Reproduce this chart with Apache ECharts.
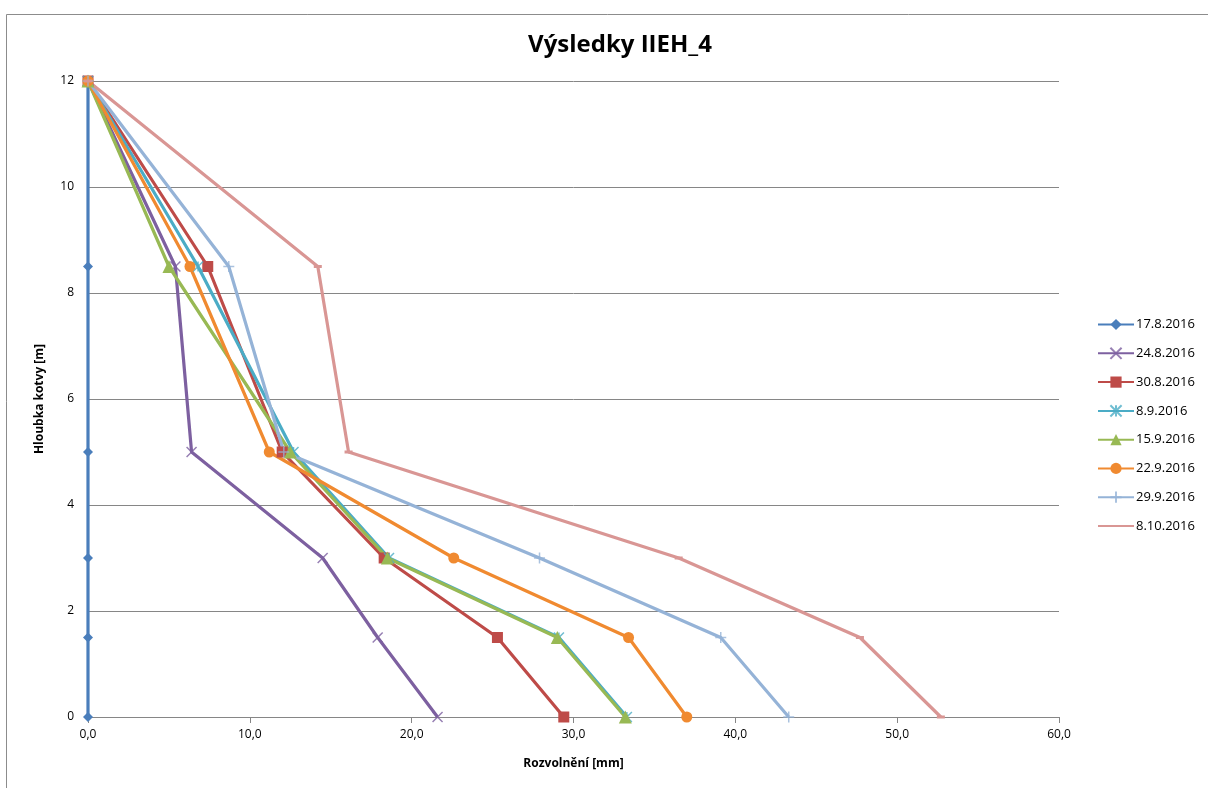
<!DOCTYPE html>
<html><head><meta charset="utf-8">
<script src="https://cdn.jsdelivr.net/npm/echarts@6/dist/echarts.min.js"></script>
<style>html,body{margin:0;padding:0;background:#fff}#c{width:1208px;height:788px}</style>
</head><body><div id="c"></div>
<script>
const depths = [12, 8.5, 5, 3, 1.5, 0];
const seriesNames = ['17.8.2016','24.8.2016','30.8.2016','8.9.2016','15.9.2016','22.9.2016','29.9.2016','8.10.2016'];
const s_17_8 = [0, 0, 0, 0, 0, 0];
const s_24_8 = [0, 5.4, 6.4, 14.5, 17.9, 21.6];
const s_30_8 = [0, 7.4, 12.0, 18.3, 25.3, 29.4];
const s_8_9  = [0, 6.8, 12.7, 18.6, 29.1, 33.3];
const s_15_9 = [0, 5.0, 12.5, 18.5, 29.0, 33.2];
const s_22_9 = [0, 6.3, 11.2, 22.6, 33.4, 37.0];
const s_29_9 = [0, 8.7, 12.1, 27.9, 39.1, 43.3];
const s_8_10 = [0, 14.2, 16.1, 36.5, 47.7, 52.7];
const xTicks = [0, 10, 20, 30, 40, 50, 60];
const yTicks = [0, 2, 4, 6, 8, 10, 12];

const allValues = [s_17_8, s_24_8, s_30_8, s_8_9, s_15_9, s_22_9, s_29_9, s_8_10];
const colors = ['#4A7EBB','#7D60A0','#BE4B48','#4BACC6','#98B954','#F08A30','#95B3D7','#D99694'];
const symbols = [
  {symbol:'diamond', size:10, stroke:false},
  {symbol:'path://M0,0L10,10M10,0L0,10', size:10, stroke:true},
  {symbol:'rect', size:11, stroke:false},
  {symbol:'path://M0,0L10,10M10,0L0,10M5,0L5,10', size:10, stroke:true},
  {symbol:'triangle', size:13, stroke:false},
  {symbol:'circle', size:11, stroke:false},
  {symbol:'path://M5,0L5,10M0,5L10,5', size:11, stroke:true},
  {symbol:'rect', size:[8,3], stroke:false}
];

const series = seriesNames.map((name, i) => ({
  name: name,
  type: 'line',
  data: allValues[i].map((v, k) => [v, depths[k]]),
  symbol: symbols[i].symbol,
  symbolSize: symbols[i].size,
  showAllSymbol: true,
  lineStyle: {color: colors[i], width: 3.2},
  itemStyle: symbols[i].stroke
    ? {color: 'rgba(0,0,0,0)', borderColor: colors[i], borderWidth: 1.5, opacity: 0.8}
    : {color: colors[i], borderWidth: 0},
  emphasis: {disabled: true},
  animation: false
}));

const legendData = seriesNames.map((n, i) => i === 7 ? {name: n, itemStyle: {opacity: 0}} : {name: n});

const chart = echarts.init(document.getElementById('c'), null, {renderer: 'canvas'});
chart.setOption({
  backgroundColor: '#fff',
  animation: false,
  color: colors,
  graphic: [{
    type: 'rect', left: 4, top: 12, silent: true,
    shape: {width: 1220, height: 800},
    style: {fill: 'none', stroke: '#8c8c8c', lineWidth: 1}
  }],
  title: {
    text: 'Výsledky IIEH_4',
    left: 615, top: 28, textAlign: 'center',
    textStyle: {fontFamily: 'Open Sans', fontWeight: 'bold', fontSize: 24, color: '#000'}
  },
  legend: {
    orient: 'vertical',
    left: 1092, top: 313,
    itemWidth: 36, itemHeight: 14, itemGap: 15.7,
    textStyle: {fontFamily: 'Open Sans', fontSize: 13, color: '#000', padding: [0,0,0,-3]},
    data: legendData
  },
  grid: {left: 88, right: 149, top: 81, bottom: 71, containLabel: false},
  xAxis: {
    type: 'value', min: 0, max: 60, interval: 10,
    name: 'Rozvolnění [mm]', nameLocation: 'middle', nameGap: 41,
    nameTextStyle: {fontFamily: 'Open Sans', fontWeight: 'bold', fontSize: 12, color: '#000'},
    axisLine: {show: true, lineStyle: {color: '#868686', width: 1}},
    axisTick: {show: true, length: 6, lineStyle: {color: '#868686'}},
    axisLabel: {fontFamily: 'Open Sans', fontSize: 12, color: '#000', margin: 12,
      formatter: v => xTicks.includes(v) ? v.toFixed(1).replace('.', ',') : ''},
    splitLine: {show: false}
  },
  yAxis: {
    type: 'value', min: 0, max: 12, interval: 2,
    name: 'Hloubka kotvy [m]', nameLocation: 'middle', nameGap: 42, nameRotate: 90,
    nameTextStyle: {fontFamily: 'Open Sans', fontWeight: 'bold', fontSize: 12, color: '#000'},
    axisLine: {show: true, lineStyle: {color: '#868686', width: 1}},
    axisTick: {show: false},
    axisLabel: {fontFamily: 'Open Sans', fontSize: 12, color: '#000', margin: 14,
      formatter: v => yTicks.includes(v) ? String(v) : ''},
    splitLine: {show: true, lineStyle: {color: '#868686', width: 1}}
  },
  series: series
});
</script></body></html>
